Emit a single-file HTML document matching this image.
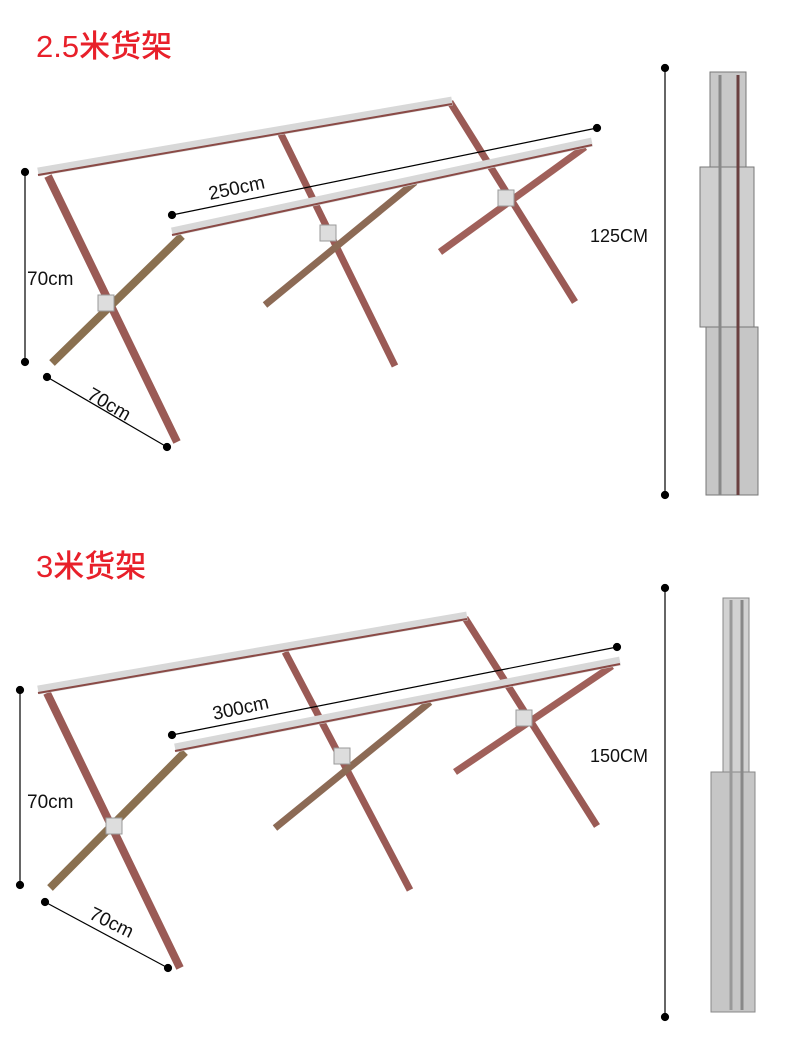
<!DOCTYPE html>
<html><head><meta charset="utf-8"><style>
html,body{margin:0;padding:0;background:#fff;}
svg{display:block;}
text{font-family:"Liberation Sans","Noto Sans CJK SC",sans-serif;}
</style></head><body>
<svg width="790" height="1055" viewBox="0 0 790 1055" xmlns="http://www.w3.org/2000/svg">
<text x="36" y="57" font-size="31" font-weight="500" fill="#e8202a">2.5米货架</text>
<text x="36" y="577" font-size="31" font-weight="500" fill="#e8202a">3米货架</text>

<g>
  <line x1="450" y1="102" x2="575" y2="302" stroke="#9a5a55" stroke-width="7"/>
  <line x1="585" y1="147" x2="440" y2="252" stroke="#a0605a" stroke-width="7"/>
  <line x1="280" y1="132" x2="395" y2="366" stroke="#9a5a55" stroke-width="7"/>
  <line x1="415" y1="182" x2="265" y2="305" stroke="#8c6a55" stroke-width="7"/>
  <line x1="48" y1="176" x2="177" y2="442" stroke="#9a5a55" stroke-width="8"/>
  <line x1="182" y1="236" x2="52" y2="363" stroke="#8a7050" stroke-width="8"/>
  <line x1="38" y1="172" x2="452" y2="101" stroke="#d8d8d8" stroke-width="9"/>
  <line x1="38" y1="175" x2="452" y2="104" stroke="#8a4a46" stroke-width="2"/>
  <line x1="172" y1="232" x2="592" y2="142" stroke="#d8d8d8" stroke-width="9"/>
  <line x1="172" y1="235" x2="592" y2="145" stroke="#8a4a46" stroke-width="2"/>
  <rect x="98" y="295" width="16" height="16" fill="#ddd" stroke="#999"/>
  <rect x="320" y="225" width="16" height="16" fill="#ddd" stroke="#999"/>
  <rect x="498" y="190" width="16" height="16" fill="#ddd" stroke="#999"/>
</g>
<g stroke="#000" stroke-width="1.2" fill="#000">
  <line x1="25" y1="172" x2="25" y2="362"/><circle cx="25" cy="172" r="3.5"/><circle cx="25" cy="362" r="3.5"/>
  <line x1="47" y1="377" x2="167" y2="447"/><circle cx="47" cy="377" r="3.5"/><circle cx="167" cy="447" r="3.5"/>
  <line x1="172" y1="215" x2="597" y2="128"/><circle cx="172" cy="215" r="3.5"/><circle cx="597" cy="128" r="3.5"/>
  <line x1="665" y1="68" x2="665" y2="495"/><circle cx="665" cy="68" r="3.5"/><circle cx="665" cy="495" r="3.5"/>
</g>
<text x="27" y="285" font-size="19" fill="#111">70cm</text>
<text x="0" y="0" font-size="19" fill="#111" transform="translate(86,398) rotate(30)">70cm</text>
<text x="0" y="0" font-size="19" fill="#111" transform="translate(210,200) rotate(-12)">250cm</text>
<text x="590" y="242" font-size="18" fill="#111">125CM</text>
<g>
  <rect x="710" y="72" width="36" height="95" fill="#c8c8c8" stroke="#777"/>
  <rect x="700" y="167" width="54" height="160" fill="#cfcfcf" stroke="#777"/>
  <rect x="706" y="327" width="52" height="168" fill="#c6c6c6" stroke="#777"/>
  <line x1="720" y1="75" x2="720" y2="495" stroke="#888" stroke-width="3"/>
  <line x1="738" y1="75" x2="738" y2="495" stroke="#6a4040" stroke-width="3"/>
</g>

<g>
  <line x1="465" y1="618" x2="597" y2="826" stroke="#9a5a55" stroke-width="7"/>
  <line x1="612" y1="666" x2="455" y2="772" stroke="#a0605a" stroke-width="7"/>
  <line x1="285" y1="652" x2="410" y2="890" stroke="#9a5a55" stroke-width="7"/>
  <line x1="430" y1="702" x2="275" y2="828" stroke="#8c6a55" stroke-width="7"/>
  <line x1="47" y1="693" x2="180" y2="968" stroke="#9a5a55" stroke-width="8"/>
  <line x1="185" y1="752" x2="50" y2="888" stroke="#8a7050" stroke-width="8"/>
  <line x1="38" y1="690" x2="467" y2="616" stroke="#d8d8d8" stroke-width="9"/>
  <line x1="38" y1="693" x2="467" y2="619" stroke="#8a4a46" stroke-width="2"/>
  <line x1="175" y1="748" x2="620" y2="661" stroke="#d8d8d8" stroke-width="9"/>
  <line x1="175" y1="751" x2="620" y2="664" stroke="#8a4a46" stroke-width="2"/>
  <rect x="106" y="818" width="16" height="16" fill="#ddd" stroke="#999"/>
  <rect x="334" y="748" width="16" height="16" fill="#ddd" stroke="#999"/>
  <rect x="516" y="710" width="16" height="16" fill="#ddd" stroke="#999"/>
</g>
<g stroke="#000" stroke-width="1.2" fill="#000">
  <line x1="20" y1="690" x2="20" y2="885"/><circle cx="20" cy="690" r="3.5"/><circle cx="20" cy="885" r="3.5"/>
  <line x1="45" y1="902" x2="168" y2="968"/><circle cx="45" cy="902" r="3.5"/><circle cx="168" cy="968" r="3.5"/>
  <line x1="172" y1="735" x2="617" y2="647"/><circle cx="172" cy="735" r="3.5"/><circle cx="617" cy="647" r="3.5"/>
  <line x1="665" y1="588" x2="665" y2="1017"/><circle cx="665" cy="588" r="3.5"/><circle cx="665" cy="1017" r="3.5"/>
</g>
<text x="27" y="808" font-size="19" fill="#111">70cm</text>
<text x="0" y="0" font-size="19" fill="#111" transform="translate(88,918) rotate(26)">70cm</text>
<text x="0" y="0" font-size="19" fill="#111" transform="translate(214,720) rotate(-12)">300cm</text>
<text x="590" y="762" font-size="18" fill="#111">150CM</text>
<g>
  <rect x="723" y="598" width="26" height="175" fill="#d2d2d2" stroke="#888"/>
  <rect x="711" y="772" width="44" height="240" fill="#c6c6c6" stroke="#888"/>
  <line x1="731" y1="600" x2="731" y2="1010" stroke="#999" stroke-width="3"/>
  <line x1="742" y1="600" x2="742" y2="1010" stroke="#888" stroke-width="3"/>
</g>
</svg>
</body></html>
